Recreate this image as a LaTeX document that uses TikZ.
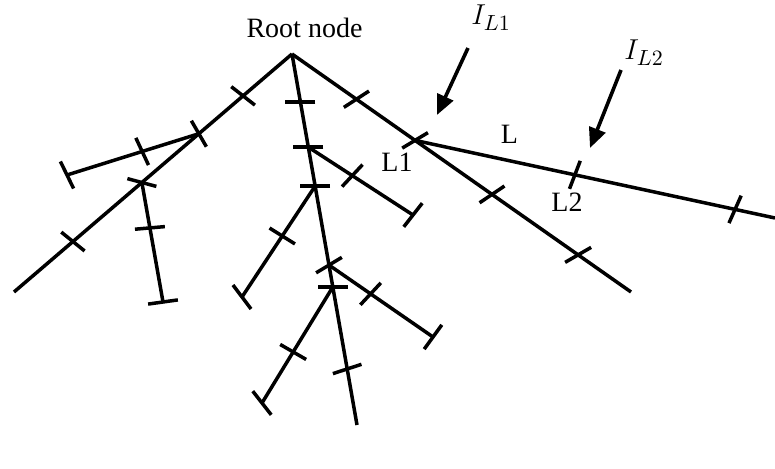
\documentclass[tikz,border=0pt]{standalone}
\usepackage{fontspec}
\setmainfont{Liberation Serif}
\DeclareMathSizes{14}{14}{11}{8}
\usetikzlibrary{arrows.meta,calc}
\tikzset{
  wire/.style={line width=1.75pt, color=black},
  tk/.style={line width=1.75pt, color=black},
  lbl/.style={inner sep=0pt, font=\fontsize{14}{17}\selectfont},
  arr/.style={-{Triangle[length=10pt,width=8.5pt]}, line width=1.8pt}}

\begin{document}
\begin{tikzpicture}[x=0.5pt, y=-0.5pt]
    \useasboundingbox (0,0) rectangle (775,469);
    \coordinate (root) at (292,54);
    \coordinate (lEnd) at (14,292);
    \coordinate (cEnd) at (357,425);
    \coordinate (rEnd) at (631,292);
    \coordinate (lineEnd) at (775,218);
    \draw[wire] (root) -- (lEnd) coordinate[pos=.176] (lt1) coordinate[pos=.335] (lA)
      coordinate[pos=.54] (lB) coordinate[pos=.788] (lt2);
    \draw[wire] (root) -- (cEnd) coordinate[pos=.129] (ct1) coordinate[pos=.251] (c1)
      coordinate[pos=.356] (c2) coordinate[pos=.569] (c3) coordinate[pos=.628] (c4)
      coordinate[pos=.849] (ct2);
    \draw[wire] (root) -- (rEnd) coordinate[pos=.19] (rt1) coordinate[pos=.363] (rD)
      coordinate[pos=.59] (rt2) coordinate[pos=.844] (rt3);
    \draw[wire] (rD) -- (lineEnd) coordinate[pos=.444] (Lt1) coordinate[pos=.889] (Lt2);
    \coordinate (aEnd) at (67,175);
    \coordinate (bEnd) at (163,302);
    \coordinate (c1End) at (413,215);
    \coordinate (c2End) at (242,297);
    \coordinate (c3End) at (433,337);
    \coordinate (c4End) at (262,403);
    \draw[wire] (lA) -- (aEnd) coordinate[pos=.43] (at1);
    \draw[wire] (lB) -- (bEnd) coordinate[pos=.38] (bt1);
    \draw[wire] (c1) -- (c1End) coordinate[pos=.42] (c1t);
    \draw[wire] (c2) -- (c2End) coordinate[pos=.45] (c2t);
    \draw[wire] (c3) -- (c3End) coordinate[pos=.40] (c3t);
    \draw[wire] (c4) -- (c4End) coordinate[pos=.56] (c4t);
    \foreach \p/\a in {lt1/-38, lA/-60, lB/-15, lt2/-39, at1/-65, aEnd/-64, bt1/5, bEnd/8,
        ct1/0, c1/0, c2/0, c3/31, c4/0, ct2/18, c1t/47, c1End/52, c2t/-32, c2End/-53,
        c3t/47, c3End/54, c4t/-30, c4End/-52, rt1/33, rD/31, rt2/34, rt3/30, Lt1/69, Lt2/66}
      \draw[tk] ($(\p)+(\a:7.5pt)$) -- ($(\p)-(\a:7.5pt)$);
    \node[lbl, anchor=base] (rootlbl) at (304.5,38) {Root node};
    \node[lbl, anchor=base] (l1lbl) at (397,172) {L1};
    \node[lbl, anchor=base] (llbl) at (509.5,144) {L};
    \node[lbl, anchor=base] (l2lbl) at (567,212) {L2};
    \node[lbl, anchor=base west] (iL1) at (471,25) {$I_{L1}$};
    \node[lbl, anchor=base west] (iL2) at (624,60) {$I_{L2}$};
    \coordinate (iL1tail) at (468,48);
    \coordinate (iL1tip) at (437,115);
    \coordinate (iL2tail) at (621,70);
    \coordinate (iL2tip) at (590,148);
    \draw[arr] (iL1tail) -- (iL1tip);
    \draw[arr] (iL2tail) -- (iL2tip);
  \end{tikzpicture}
\end{document}
